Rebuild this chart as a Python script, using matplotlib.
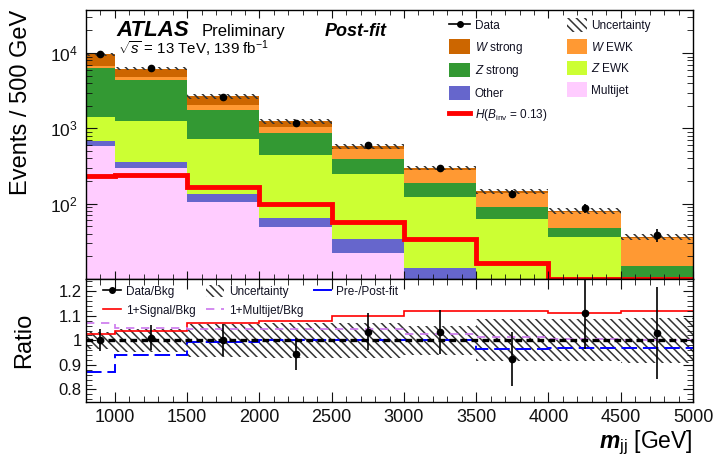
import numpy as np
import matplotlib
matplotlib.use("Agg")
import matplotlib.pyplot as plt
from matplotlib.patches import Patch
from matplotlib.lines import Line2D
from matplotlib.ticker import MultipleLocator, LogLocator, NullFormatter, FuncFormatter

plt.rcParams["font.family"] = "Liberation Sans"
plt.rcParams["mathtext.fontset"] = "custom"
plt.rcParams["mathtext.rm"] = "Liberation Sans"
plt.rcParams["mathtext.it"] = "Liberation Sans:italic"
plt.rcParams["mathtext.bf"] = "Liberation Sans:bold"
plt.rcParams["mathtext.bfit"] = "Liberation Sans:italic:bold"
plt.rcParams["hatch.linewidth"] = 1.1
plt.rcParams["hatch.color"] = "#333333"
plt.rcParams["axes.linewidth"] = 1.0

# bin edges in m_jj (GeV)
edges = np.array([800, 1000, 1500, 2000, 2500, 3000, 3500, 4000, 4500, 5000])

# post-fit background yields per bin (stacked bottom -> top)
multijet = [593, 299, 104, 49, 22.4, 6, 3, 1.5, 1]
other = [84, 57, 31, 15, 11.4, 8.2, 5, 3, 2]
z_ewk = [740, 903, 578, 386, 215, 110, 54.5, 31.1, 7.4]
z_strong = [5023, 3201, 1061, 415, 145, 63, 26.8, 11.3, 4.5]
w_ewk = [340, 370, 253, 175, 147, 97, 50.7, 30, 19.8]
w_strong = [2830, 1420, 643, 200, 40, 15, 6, 3.8, 1.6]
signal = [231, 244, 165, 99, 56.4, 33.8, 16.5, 8, 5]
data = [9700, 6300, 2640, 1180, 600, 302, 135, 88, 38.5]
unc = [0.035, 0.048, 0.068, 0.07, 0.072, 0.06, 0.085, 0.085, 0.092]

# ratio panel
ratio_data = [1.0, 1.011, 1.0, 0.946, 1.036, 1.034, 0.922, 1.111, 1.029]
ratio_err = [0.045, 0.05, 0.065, 0.065, 0.075, 0.088, 0.11, 0.148, 0.188]
ratio_sig = [1.025, 1.038, 1.069, 1.080, 1.1, 1.118, 1.118, 1.111, 1.118]
ratio_mj = [1.070, 1.049, 1.045, 1.045, 1.045, 1.027, 1.014, 1.007, 1.002]
ratio_prefit = [0.871, 0.942, 0.995, 1.0, 1.0, 1.0, 0.963, 0.970, 0.970]

colors = {
    "Multijet": "#ffccff",
    "Other": "#6666cc",
    "Z EWK": "#ccff33",
    "Z strong": "#339933",
    "W EWK": "#ff9933",
    "W strong": "#cc6600",
}
HATCH = "\\\\\\\\"

W, H = 715, 459
fig = plt.figure(figsize=(W / 100, H / 100), dpi=100)
ax = fig.add_axes([86 / W, 1 - 279 / H, 607 / W, 269.5 / H])
ax2 = fig.add_axes([86 / W, 1 - 401.7 / H, 607 / W, 122.7 / H], sharex=ax)

centers = 0.5 * (edges[1:] + edges[:-1])

# stacked backgrounds
stack = np.array([multijet, other, z_ewk, z_strong, w_ewk, w_strong], dtype=float)
names = ["Multijet", "Other", "Z EWK", "Z strong", "W EWK", "W strong"]
cum = np.cumsum(stack, axis=0)
lower = np.vstack([np.full(len(centers), 0.1), cum[:-1]])
for name, top, bot in zip(names, cum, lower):
    ax.stairs(top, edges, baseline=bot, fill=True, color=colors[name], lw=0)

total = cum[-1]
unc = np.array(unc)
ax.stairs(total * (1 + unc), edges, baseline=total * (1 - unc), fill=True,
          facecolor="none", edgecolor="#333333", hatch=HATCH, lw=0)

ax.stairs(np.maximum(signal, 10), edges, baseline=None, color="red", lw=3.5)

data = np.array(data)
main_err = data * np.array(ratio_err) / np.array(ratio_data)
ax.errorbar(centers, data, yerr=main_err, fmt="o", color="k", ms=4.5,
            elinewidth=1.2, capsize=0, zorder=5)

ax.set_yscale("log")
ax.set_ylim(10, 3.8e4)
ax.set_xlim(800, 5000)
ax.set_yticks([1e2, 1e3, 1e4])
ax.yaxis.set_minor_locator(LogLocator(base=10, subs=np.arange(2, 10)))
ax.yaxis.set_minor_formatter(NullFormatter())
ax.tick_params(axis="x", labelbottom=False)

# ratio panel
ax2.stairs(1 + unc, edges, baseline=1 - unc, fill=True, facecolor="none",
           edgecolor="#333333", hatch=HATCH, lw=0)
ax2.axhline(1, color="k", lw=2.4, ls=(0, (2, 1.3)))
ax2.stairs(ratio_sig, edges, baseline=None, color="red", lw=1.2)
ax2.stairs(ratio_mj, edges, baseline=None, color="#cc77ee", lw=1.2, ls=(0, (5, 4)))
ax2.stairs(ratio_prefit, edges, baseline=None, color="blue", lw=1.4, ls=(0, (8, 3)))
ax2.errorbar(centers, ratio_data, yerr=ratio_err, fmt="o", color="k", ms=4.5,
             elinewidth=1.2, capsize=0, zorder=5)
ax2.set_ylim(0.75, 1.25)
ax2.yaxis.set_major_locator(MultipleLocator(0.1))
ax2.yaxis.set_minor_locator(MultipleLocator(0.02))
ax2.yaxis.set_major_formatter(FuncFormatter(lambda v, p: f"{v:g}"))

for a in (ax, ax2):
    a.xaxis.set_major_locator(MultipleLocator(500))
    a.xaxis.set_minor_locator(MultipleLocator(100))
    a.tick_params(which="both", direction="in", top=True, right=True, colors="#111111")
    a.tick_params(which="major", length=6)
    a.tick_params(which="minor", length=3.5)
ax.tick_params(axis="y", which="major", length=8, labelsize=12.5, pad=6)
ax.tick_params(axis="y", which="minor", length=4)
ax2.tick_params(axis="y", which="major", length=7.5, labelsize=12, pad=3)
ax2.tick_params(axis="y", which="minor", length=4)
ax2.tick_params(axis="x", which="major", length=7, labelsize=13, pad=5)
ax2.tick_params(axis="x", which="minor", length=4)

# axis titles
fig.text(21 / W, 1 - 102.5 / H, "Events / 500 GeV", rotation=90, ha="center",
         va="center", fontsize=17)
fig.text(24 / W, 1 - 340 / H, "Ratio", rotation=90, ha="center", va="center",
         fontsize=17)
fig.text(693 / W, 1 - 448 / H, r"$\mathbfit{m}_{\mathrm{jj}}$ [GeV]", ha="right",
         va="baseline", fontsize=16.5)

# ATLAS label
fig.text(116.7 / W, 1 - 35.7 / H, "ATLAS", fontsize=16, fontweight="bold",
         fontstyle="italic", va="baseline")
fig.text(201.7 / W, 1 - 35.7 / H, "Preliminary", fontsize=12, va="baseline")
fig.text(325 / W, 1 - 35.7 / H, "Post-fit", fontsize=13, fontweight="bold",
         fontstyle="italic", va="baseline")
fig.text(117.7 / W, 1 - 54.3 / H, r"$\sqrt{s}$ = 13 TeV, 139 fb$^{-1}$",
         fontsize=10.8, va="baseline")


def patch(name):
    return Patch(facecolor=colors[name], edgecolor="none")


hatch_patch = Patch(facecolor="none", edgecolor="#333333", hatch=HATCH, lw=0)


def column_legend(handles, labels, x_px, ytop_px, hl, hh, ls):
    fig.legend(handles, labels, loc="upper left",
               bbox_to_anchor=(x_px / W, 1 - ytop_px / H), frameon=False,
               borderpad=0, borderaxespad=0, handlelength=hl, handleheight=hh,
               handletextpad=0.4, labelspacing=ls, fontsize=8.5,
               labelcolor="#111122")


column_legend(
    [Line2D([], [], color="k", marker="o", ms=4, lw=1.2), patch("W strong"),
     patch("Z strong"), patch("Other"), Line2D([], [], color="red", lw=3.5)],
    ["Data", r"$W$ strong", r"$Z$ strong", "Other", r"$H(B_{\mathrm{inv}}$ = 0.13)"],
    449, 18, 1.8, 1.5, 0.6)
column_legend(
    [hatch_patch, patch("W EWK"), patch("Z EWK"), patch("Multijet")],
    ["Uncertainty", r"$W$ EWK", r"$Z$ EWK", "Multijet"],
    566.7, 18, 1.7, 1.5, 0.6)

column_legend(
    [Line2D([], [], color="k", marker="o", ms=4, lw=1.2),
     Line2D([], [], color="red", lw=1.2)],
    ["Data/Bkg", "1+Signal/Bkg"], 102.7, 284.7, 1.55, 1.2, 0.5)
column_legend(
    [hatch_patch, Line2D([], [], color="#cc77ee", lw=1.2, ls=(0, (5, 4)))],
    ["Uncertainty", "1+Multijet/Bkg"], 206, 284.7, 1.55, 1.2, 0.5)
column_legend(
    [Line2D([], [], color="blue", lw=1.4)],
    ["Pre-/Post-fit"], 314, 284.7, 1.45, 1.2, 0.5)

fig.savefig("out.png", dpi=100)
